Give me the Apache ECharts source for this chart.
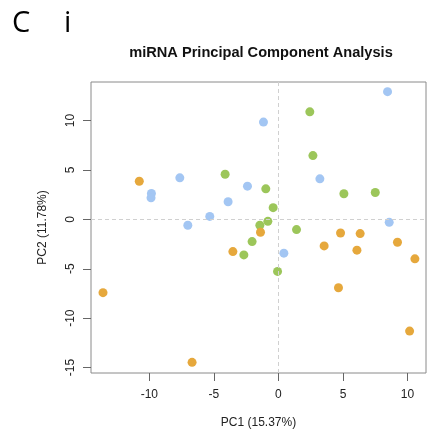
<!DOCTYPE html>
<html>
<head>
<meta charset="utf-8">
<script src="https://cdn.jsdelivr.net/npm/echarts@6/dist/echarts.min.js"></script>
<style>
html,body{margin:0;padding:0;background:#fff;}
#chart{width:432px;height:434px;}
</style>
</head>
<body>
<div id="chart"></div>
<script>
const xTicks = [-10, -5, 0, 5, 10];
const yTicks = [-15, -10, -5, 0, 5, 10];
const blueGroup = [[-9.84,2.62],[-9.87,2.18],[-7.64,4.2],[-7.02,-0.6],[-3.9,1.78],[-5.32,0.3],[-2.4,3.36],[8.45,12.92],[-1.16,9.84],[3.21,4.1],[8.58,-0.3],[0.42,-3.42]];
const greenGroup = [[-4.13,4.56],[2.43,10.88],[2.67,6.45],[-0.98,3.09],[5.07,2.59],[7.5,2.72],[-0.41,1.18],[-0.82,-0.2],[-1.44,-0.6],[1.4,-1.04],[-2.04,-2.25],[-2.68,-3.6],[-0.07,-5.27]];
const orangeGroup = [[-10.78,3.86],[-1.39,-1.31],[4.81,-1.38],[6.33,-1.44],[3.54,-2.69],[6.08,-3.12],[9.22,-2.32],[10.57,-4.0],[4.65,-6.92],[10.16,-11.31],[-3.53,-3.26],[-13.59,-7.42],[-6.69,-14.47]];
const colors = {blue:'#a3c6f3', green:'#9cc65a', orange:'#e6a83c'};

const chart = echarts.init(document.getElementById('chart'), null, {renderer:'canvas'});
const font = 'Liberation Sans, Arial, sans-serif';
function sc(name, data, color){
  return {name:name, type:'scatter', data:data, symbolSize:9, itemStyle:{color:color, opacity:1}, z:3};
}
chart.setOption({
  animation:false,
  backgroundColor:'#fff',
  textStyle:{fontFamily:font},
  graphic:[
    {type:'text', left:12, top:9, style:{text:'C', font:'29px "Open Sans", sans-serif', fill:'#000'}},
    {type:'text', left:64, top:9, style:{text:'i', font:'29px "Open Sans", sans-serif', fill:'#000'}}
  ],
  title:{text:'miRNA Principal Component Analysis', left:256, textAlign:'center', top:40,
    textStyle:{fontFamily:font, fontSize:14.6, fontWeight:'bold', color:'#111'}},
  grid:{left:91, top:82, right:6, bottom:60, show:true, borderColor:'#8a8a8a', borderWidth:1, backgroundColor:'#fff'},
  xAxis:{type:'value', min:-14.52, max:11.43, splitLine:{show:false},
    axisLine:{show:false, onZero:false},
    axisTick:{show:true, length:8, lineStyle:{color:'#666'}, customValues:xTicks},
    axisLabel:{fontFamily:font, fontSize:12, color:'#222', margin:16, customValues:xTicks},
    name:'PC1 (15.37%)', nameLocation:'middle', nameGap:44,
    nameTextStyle:{fontFamily:font, fontSize:12, color:'#222'}},
  yAxis:{type:'value', min:-15.55, max:13.9, splitLine:{show:false},
    axisLine:{show:false, onZero:false},
    axisTick:{show:true, length:8, lineStyle:{color:'#666'}, customValues:yTicks},
    axisLabel:{fontFamily:font, fontSize:12, color:'#222', margin:14, rotate:90, customValues:yTicks},
    name:'PC2 (11.78%)', nameLocation:'middle', nameGap:42, nameRotate:90,
    nameTextStyle:{fontFamily:font, fontSize:12, color:'#222'}},
  series:[
    {type:'scatter', data:[], silent:true,
      markLine:{silent:true, symbol:'none', label:{show:false},
        lineStyle:{color:'#d0d0d0', type:[4,3], width:1},
        data:[{xAxis:0},{yAxis:0}]}},
    sc('blue', blueGroup, colors.blue),
    sc('green', greenGroup, colors.green),
    sc('orange', orangeGroup, colors.orange)
  ]
});
</script>
</body>
</html>
